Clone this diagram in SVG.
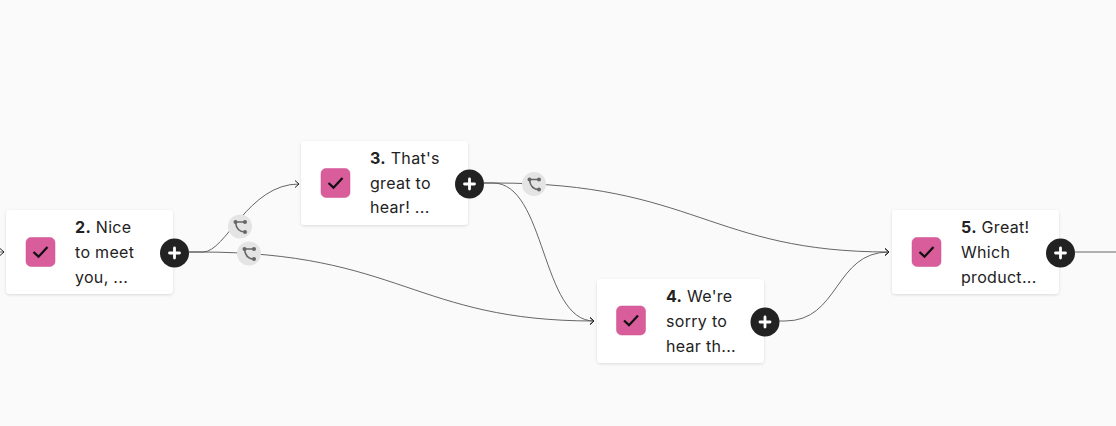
<svg xmlns="http://www.w3.org/2000/svg" width="1116" height="426" viewBox="0 0 1116 426">
<defs>
<filter id="sh" x="-10%" y="-10%" width="120%" height="125%"><feDropShadow dx="0" dy="1" stdDeviation="1.5" flood-color="#000" flood-opacity="0.13"/></filter>
<marker id="arr" markerUnits="userSpaceOnUse" markerWidth="8" markerHeight="10" refX="6" refY="5" orient="auto"><path d="M2 1.500L6 5L2 8.500" fill="none" stroke="#222" stroke-width="1"/></marker>
<g id="br"><circle r="12" fill="#e4e4e4"/><path d="M-4.500-4.500H5M-4.500-4.500Q-3.500 5.500 5 5.500" fill="none" stroke="#666" stroke-width="1.600"/><circle cx="-4.500" cy="-4.500" r="2" fill="#666"/><circle cx="5" cy="-4.500" r="2" fill="#666"/><circle cx="5" cy="5.500" r="2" fill="#666"/></g>
<g id="chk"><rect x="0" y="0" width="29" height="29" rx="5" fill="#d95c9b" stroke="#cf5390" stroke-width="0.500"/><path d="M7.500 14.500L12.500 19.200L21.500 9.500" fill="none" stroke="#111" stroke-width="2.300"/></g>
<g id="plus"><circle r="14.500" fill="#222"/><path d="M-5 0H5M0-5V5" stroke="#fff" stroke-width="2.800" stroke-linecap="round"/></g>
</defs>
<style>
.card{fill:#fff;filter:url(#sh)}
.t{font-family:Inter,"Liberation Sans",sans-serif;font-size:16px;letter-spacing:0.3px;fill:#222}
.b{font-weight:700}
.c{fill:none;stroke:#555;stroke-width:0.900}
</style>
<rect width="1116" height="426" fill="#fafafa"/>
<g id="connectors">
<path class="c" d="M0 252H4" marker-end="url(#arr)"/>
<path class="c" d="M189 252H203C226 252 248 184 299 184" marker-end="url(#arr)"/>
<path class="c" d="M189 252H200C400 252 415 321 594 321" marker-end="url(#arr)"/>
<path class="c" d="M484 183H493C546 183 541 321 594 321" marker-end="url(#arr)"/>
<path class="c" d="M484 183H495C695 183 710 252 889 252" marker-end="url(#arr)"/>
<path class="c" d="M779 321H785C840 321 834 252 889 252" marker-end="url(#arr)"/>
<path class="c" d="M1075 252H1116"/>
</g>
<g id="branch1"><use href="#br" x="240" y="226.500"/></g>
<g id="branch2"><use href="#br" x="249" y="253.500"/></g>
<g id="branch3"><use href="#br" x="534" y="184"/></g>
<g id="node2"><rect class="card" x="6" y="210" width="167" height="84" rx="4"/><use href="#chk" x="26" y="237.500"/><text class="t" x="75" y="233"><tspan class="b">2.</tspan> Nice</text><text class="t" x="75" y="258">to meet</text><text class="t" x="75" y="283">you, ...</text><use href="#plus" x="174.500" y="253"/></g>
<g id="node3"><rect class="card" x="301" y="141" width="167" height="84" rx="4"/><use href="#chk" x="321" y="168.500"/><text class="t" x="370" y="164"><tspan class="b">3.</tspan> That's</text><text class="t" x="370" y="189">great to</text><text class="t" x="370" y="213">hear! ...</text><use href="#plus" x="469.500" y="184"/></g>
<g id="node4"><rect class="card" x="597" y="279" width="167" height="84" rx="4"/><use href="#chk" x="616.500" y="306"/><text class="t" x="666" y="302"><tspan class="b">4.</tspan> We're</text><text class="t" x="666" y="327">sorry to</text><text class="t" x="666" y="352">hear th...</text><use href="#plus" x="765" y="322"/></g>
<g id="node5"><rect class="card" x="892" y="210" width="167" height="84" rx="4"/><use href="#chk" x="912" y="237.500"/><text class="t" x="961" y="233"><tspan class="b">5.</tspan> Great!</text><text class="t" x="961" y="258">Which</text><text class="t" x="961" y="283">product...</text><use href="#plus" x="1060.500" y="253"/></g>
</svg>
